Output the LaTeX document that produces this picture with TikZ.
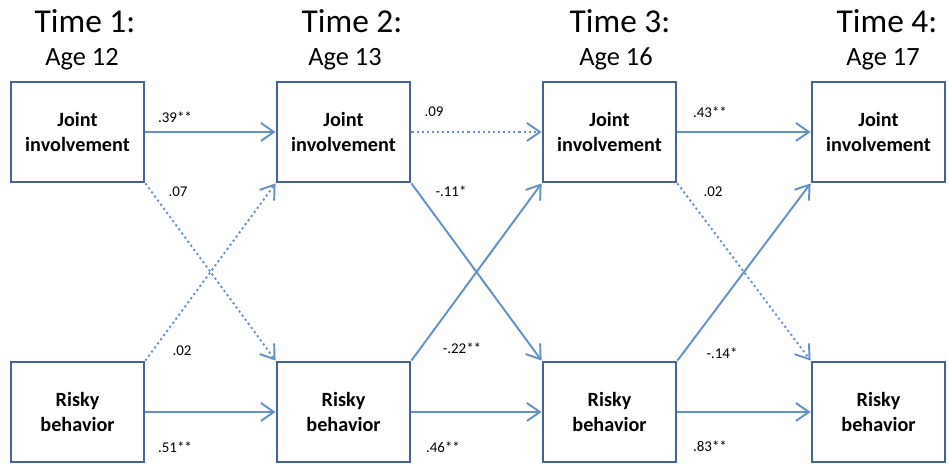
\documentclass[tikz,border=0pt]{standalone}
\usepackage{fontspec}
\setmainfont{Carlito}
\usetikzlibrary{arrows.meta}

\definecolor{boxblue}{RGB}{66,99,148}
\definecolor{arrowblue}{RGB}{98,145,200}

\tikzset{
  var/.style={draw=boxblue, line width=1.6pt, minimum width=2.66cm, minimum height=2cm,
    inner sep=0pt, align=center, font=\fontsize{11.5}{14}\selectfont\bfseries},
  link/.style={draw=arrowblue, line width=1.1pt, -{Straight Barb[length=2.6mm,width=3.6mm]}},
  weak/.style={link, dash pattern=on 1.2pt off 1.7pt},
  coef/.style={font=\fontsize{8.5}{10}\selectfont},
  timehead/.style={anchor=base, font=\fontsize{19}{22}\selectfont},
  agehead/.style={anchor=base, font=\fontsize{15}{18}\selectfont},
}

\begin{document}
\begin{tikzpicture}

\useasboundingbox (0,0) rectangle (18.98,9.28);

% Headers
\node[timehead] (t1) at (1.70,8.62) {Time 1:};
\node[timehead] (t2) at (7.04,8.62) {Time 2:};
\node[timehead] (t3) at (12.40,8.62) {Time 3:};
\node[timehead] (t4) at (17.74,8.62) {Time 4:};
\node[agehead] (a1) at (1.64,7.96) {Age 12};
\node[agehead] (a2) at (6.90,7.96) {Age 13};
\node[agehead] (a3) at (12.32,7.96) {Age 16};
\node[agehead] (a4) at (17.66,7.96) {Age 17};

% Boxes, top row
\node[var] (j1) at (1.55,6.64) {Joint\\involvement};
\node[var] (j2) at (6.87,6.64) {Joint\\involvement};
\node[var] (j3) at (12.19,6.64) {Joint\\involvement};
\node[var] (j4) at (17.57,6.64) {Joint\\involvement};
% Boxes, bottom row
\node[var] (r1) at (1.55,1.04) {Risky\\behavior};
\node[var] (r2) at (6.87,1.04) {Risky\\behavior};
\node[var] (r3) at (12.19,1.04) {Risky\\behavior};
\node[var] (r4) at (17.57,1.04) {Risky\\behavior};

% Stability paths
\draw[link] (j1) -- (j2);
\draw[weak] (j2) -- (j3);
\draw[link] (j3) -- (j4);
\draw[link] (r1) -- (r2);
\draw[link] (r2) -- (r3);
\draw[link] (r3) -- (r4);

% Cross-lagged paths
\draw[weak] (j1.south east) -- (r2.north west);
\draw[weak] (r1.north east) -- (j2.south west);
\draw[link] (j2.south east) -- (r3.north west);
\draw[link] (r2.north east) -- (j3.south west);
\draw[weak] (j3.south east) -- (r4.north west);
\draw[link] (r3.north east) -- (j4.south west);

% Coefficients
\node[coef] (c1) at (3.50,6.94) {.39**};
\node[coef] (c2) at (3.56,5.44) {.07};
\node[coef] (c3) at (3.64,2.26) {.02};
\node[coef] (c4) at (3.50,0.34) {.51**};

\node[coef] (c5) at (8.68,7.04) {.09};
\node[coef] (c6) at (9.02,5.46) {-.11*};
\node[coef] (c7) at (9.24,2.32) {-.22**};
\node[coef] (c8) at (8.86,0.34) {.46**};

\node[coef] (c9) at (14.20,7.04) {.43**};
\node[coef] (c10) at (14.26,5.44) {.02};
\node[coef] (c11) at (14.44,2.22) {-.14*};
\node[coef] (c12) at (14.20,0.36) {.83**};

\end{tikzpicture}
\end{document}
